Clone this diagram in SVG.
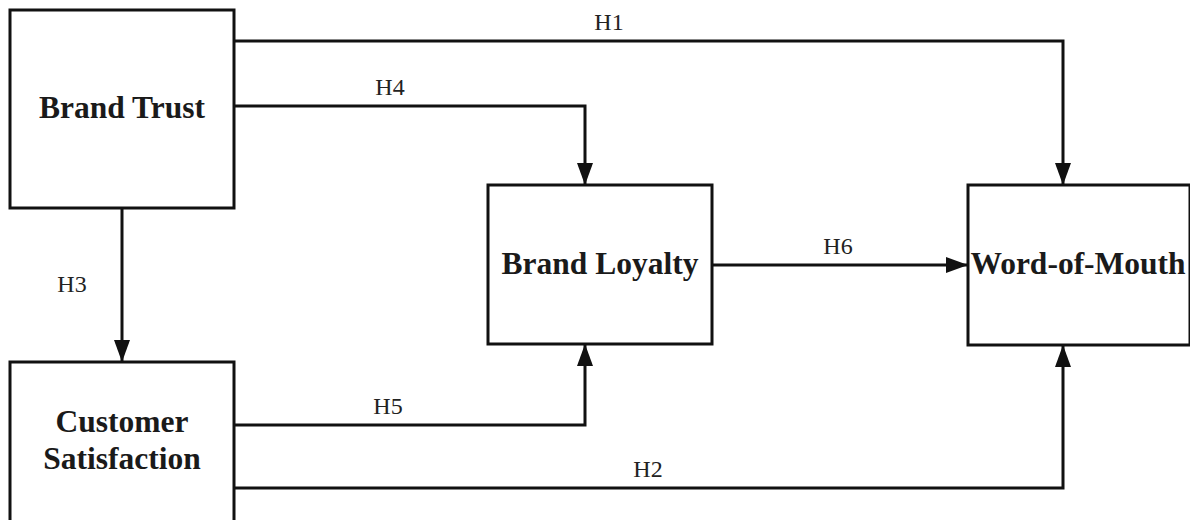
<svg xmlns="http://www.w3.org/2000/svg" width="1190" height="520" viewBox="0 0 1190 520">
<style>
.box{fill:#fff;stroke:#111;stroke-width:3}
.nt{font-family:"Liberation Serif","Times New Roman",serif;font-weight:bold;font-size:31.5px;fill:#1a1a1a;text-anchor:middle}
.lb{font-family:"Liberation Serif","Times New Roman",serif;font-size:24px;fill:#222;text-anchor:middle}
.c{fill:none;stroke:#111;stroke-width:3}
</style>
<defs>
<marker id="ah" markerWidth="22" markerHeight="16" refX="22" refY="8" orient="auto" markerUnits="userSpaceOnUse">
<path d="M0,0 L22,8 L0,16 Z" fill="#111"/>
</marker>
</defs>
<rect width="1190" height="520" fill="#fff"/>
<g id="connectors">
<path class="c" d="M234,41 H1063 V185" marker-end="url(#ah)"/>
<path class="c" d="M234,106 H585 V185" marker-end="url(#ah)"/>
<path class="c" d="M122,208 V362" marker-end="url(#ah)"/>
<path class="c" d="M712,265 H968" marker-end="url(#ah)"/>
<path class="c" d="M234,425 H585 V344" marker-end="url(#ah)"/>
<path class="c" d="M234,488 H1063 V345" marker-end="url(#ah)"/>
<text class="lb" x="609" y="30">H1</text>
<text class="lb" x="390" y="95">H4</text>
<text class="lb" x="72" y="292">H3</text>
<text class="lb" x="838" y="254">H6</text>
<text class="lb" x="388" y="414">H5</text>
<text class="lb" x="648" y="477">H2</text>
</g>
<g id="brand-trust">
<rect class="box" x="10" y="10" width="224" height="198"/>
<text class="nt" x="122" y="118">Brand Trust</text>
</g>
<g id="customer-satisfaction">
<rect class="box" x="10" y="362" width="224" height="160"/>
<text class="nt" x="122" y="432">Customer</text>
<text class="nt" x="122" y="469">Satisfaction</text>
</g>
<g id="brand-loyalty">
<rect class="box" x="488" y="185" width="224" height="159"/>
<text class="nt" x="600" y="274">Brand Loyalty</text>
</g>
<g id="word-of-mouth">
<rect class="box" x="968" y="185" width="222" height="160"/>
<text class="nt" x="1078" y="274">Word-of-Mouth</text>
</g>
</svg>
